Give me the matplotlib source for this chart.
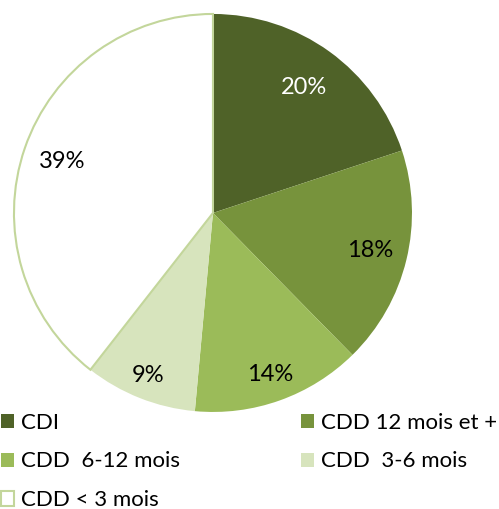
import numpy as np
import matplotlib
matplotlib.use("Agg")
import matplotlib.pyplot as plt

plt.rcParams['font.family'] = ['Lato', 'DejaVu Sans']

# --- data ---
categories = ['CDI', 'CDD 12 mois et +', 'CDD  6-12 mois', 'CDD  3-6 mois', 'CDD < 3 mois']
shares = [19.9, 17.7, 13.8, 9.1, 39.4]
colors = ['#4F6228', '#77933C', '#9BBB59', '#D7E4BD', '#FFFFFF']
label_colors = ['white', 'black', 'black', 'black', 'black']
label_radius = [0.78, 0.81, 0.86, 0.88, 0.80]

fig = plt.figure(figsize=(4.99, 5.09), dpi=100)
ax = fig.add_axes([0.028, 0.1906, 0.7976, 0.782])

wedges, _ = ax.pie(
    shares,
    colors=colors,
    startangle=90,
    counterclock=False,
    radius=1,
    wedgeprops=dict(linewidth=0),
)
wedges[-1].set_edgecolor('#C3D69B')
wedges[-1].set_linewidth(1.5)

# percentage labels at the middle angle of each slice
for w, val, r, c in zip(wedges, shares, label_radius, label_colors):
    mid = np.deg2rad((w.theta1 + w.theta2) / 2)
    ax.text(r * np.cos(mid), r * np.sin(mid), f'{val:.0f}%',
            ha='center', va='center', fontsize=17, color=c)

ax.set_xlim(-1, 1)
ax.set_ylim(-1, 1)
ax.set_aspect('equal')
ax.axis('off')

# legend in rows of two
order = [0, 2, 4, 1, 3]
fig.legend(
    [wedges[i] for i in order],
    [categories[i] for i in order],
    ncol=2,
    loc='upper left',
    bbox_to_anchor=(-0.016, 0.207),
    frameon=False,
    fontsize=16,
    handlelength=0.6,
    handleheight=0.6,
    handletextpad=0.3,
    labelspacing=0.85,
    columnspacing=5.45,
    borderaxespad=0,
)

fig.savefig('out.png', dpi=100)
